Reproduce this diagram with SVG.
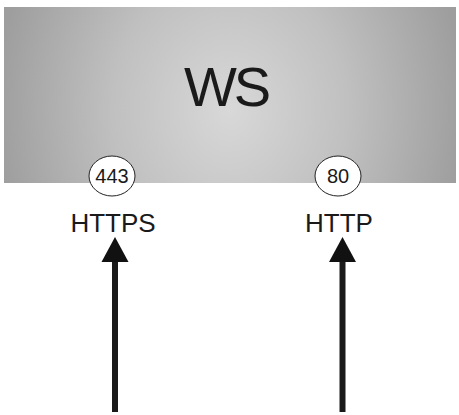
<svg xmlns="http://www.w3.org/2000/svg" width="459" height="415" viewBox="0 0 459 415">
<defs>
<radialGradient id="bg" gradientUnits="userSpaceOnUse" cx="230" cy="110" r="235" gradientTransform="translate(230 110) scale(1 1.15) translate(-230 -110)">
<stop offset="0" stop-color="#d8d8d8"/>
<stop offset="0.5" stop-color="#c0c0c0"/>
<stop offset="1" stop-color="#9e9e9e"/>
</radialGradient>
<marker id="ah" markerUnits="userSpaceOnUse" markerWidth="26" markerHeight="28" refX="0" refY="14" orient="auto" viewBox="0 0 26 28">
<path d="M0 0.5 L25 14 L0 27.5 Z" fill="#111"/>
</marker>
</defs>
<style>
.lbl{font-family:"Liberation Sans",Arial,sans-serif;fill:#1a1a1a;text-anchor:middle}
.port{fill:#fff;stroke:#222;stroke-width:1}
.arr{stroke:#1a1a1a;stroke-width:6;fill:none}
</style>
<g id="ws">
<rect x="4" y="7" width="452" height="176" fill="url(#bg)"/>
<text class="lbl" x="226" y="106" font-size="56" letter-spacing="-3">WS</text>
</g>
<g id="port443">
<ellipse class="port" cx="112" cy="176" rx="23" ry="20"/>
<text class="lbl" x="112" y="183" font-size="20">443</text>
</g>
<g id="port80">
<ellipse class="port" cx="338" cy="176" rx="23" ry="20"/>
<text class="lbl" x="338" y="183" font-size="20">80</text>
</g>
<g id="https">
<text class="lbl" x="113" y="232" font-size="26">HTTPS</text>
</g>
<g id="http">
<text class="lbl" x="339" y="232" font-size="26">HTTP</text>
</g>
<g id="connectors">
<line class="arr" x1="115" y1="412" x2="115" y2="262" marker-end="url(#ah)"/>
<line class="arr" x1="342.5" y1="412" x2="342.5" y2="262" marker-end="url(#ah)"/>
</g>
</svg>
